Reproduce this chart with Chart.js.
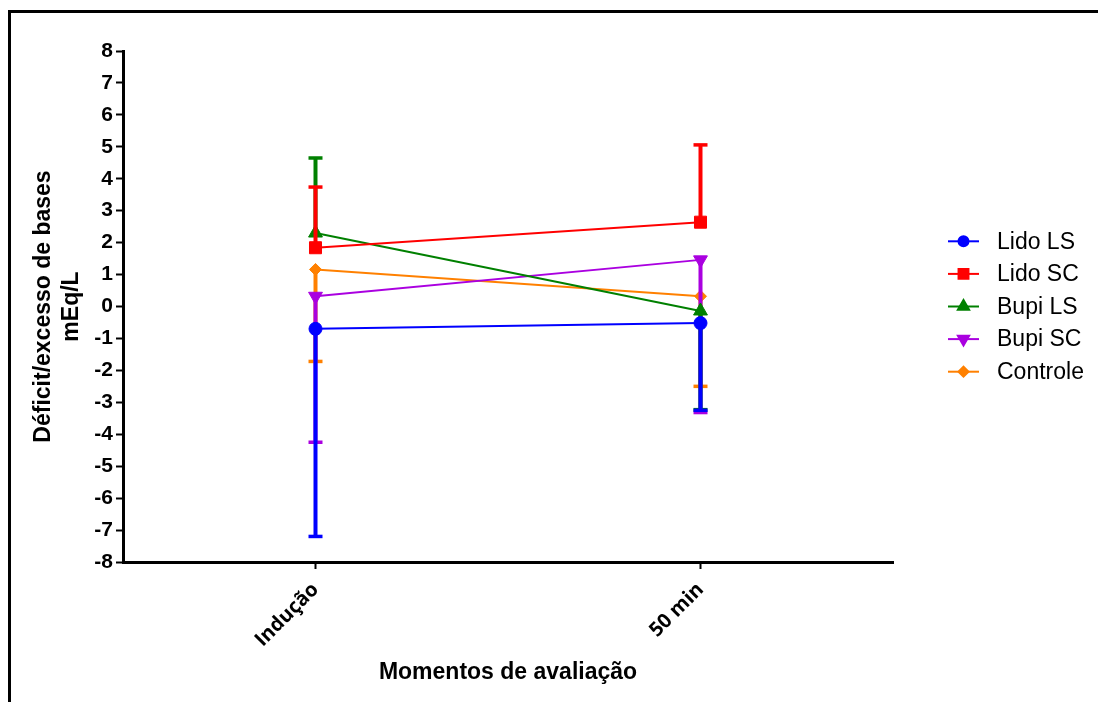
<!DOCTYPE html>
<html>
<head>
<meta charset="utf-8">
<script src="https://cdn.jsdelivr.net/npm/chart.js@4.4.0/dist/chart.umd.min.js"></script>
<style>
  html, body { margin: 0; padding: 0; background: #fff; }
  #wrap { position: relative; width: 1098px; height: 702px; }
</style>
</head>
<body>
<div id="wrap"><canvas id="baseChart"></canvas></div>
<script>
const moments = ["Indução", "50 min"];

// group means
const lidoLS = [-0.7, -0.52];
const lidoSC = [1.84, 2.64];
const bupiLS = [2.3, -0.14];
const bupiSC = [0.32, 1.46];
const controle = [1.16, 0.32];

// where each one-sided error bar ends
const lidoLSErr = [-7.2, -3.25];
const lidoSCErr = [3.74, 5.06];
const bupiLSErr = [4.65, -3.23];
const bupiSCErr = [-4.25, -3.32];
const controleErr = [-1.72, -2.5];

const yMin = -8;
const yMax = 8;

const arial = '"Liberation Sans", Arial, sans-serif';

// Frame round the figure (only top and left edges show).
const framePlugin = {
  id: "frame",
  beforeDraw: (chart) => {
    const ctx = chart.ctx;
    ctx.save();
    ctx.fillStyle = "#000";
    ctx.fillRect(8, 10, 3, chart.height);
    ctx.fillRect(8, 10, chart.width, 3);
    ctx.restore();
  },
};

// Error bars, drawn right after each dataset so layering follows the datasets.
const errorBarPlugin = {
  id: "errorBars",
  afterDatasetDraw: (chart, args) => {
    const ds = chart.data.datasets[args.index];
    if (!ds.errorTo) {
      return;
    }
    const ctx = chart.ctx;
    const yScale = chart.scales.y;
    ctx.save();
    ctx.strokeStyle = ds.borderColor;
    args.meta.data.forEach((pt, i) => {
      const yEnd = yScale.getPixelForValue(ds.errorTo[i]);
      ctx.lineWidth = 4;
      ctx.beginPath();
      ctx.moveTo(pt.x, pt.y);
      ctx.lineTo(pt.x, yEnd);
      ctx.stroke();
      ctx.lineWidth = 3.5;
      ctx.beginPath();
      ctx.moveTo(pt.x - 7, yEnd);
      ctx.lineTo(pt.x + 7, yEnd);
      ctx.stroke();
    });
    ctx.restore();
  },
};

// Legend in GraphPad style: short line with the marker on it.
const sideLegendPlugin = {
  id: "sideLegend",
  afterDraw: (chart) => {
    const ctx = chart.ctx;
    const area = chart.chartArea;
    const datasets = chart.data.datasets;
    const rowGap = 32.6;
    const x0 = area.right + 55;
    const yStart = (area.top + area.bottom) / 2 - (rowGap * (datasets.length - 1)) / 2;
    ctx.save();
    datasets.forEach((ds, i) => {
      const y = yStart + i * rowGap;
      ctx.strokeStyle = ds.borderColor;
      ctx.fillStyle = ds.borderColor;
      ctx.lineWidth = 2;
      ctx.beginPath();
      ctx.moveTo(x0, y);
      ctx.lineTo(x0 + 31, y);
      ctx.stroke();
      Chart.helpers.drawPoint(
        ctx,
        {
          pointStyle: ds.pointStyle,
          radius: ds.legendRadius,
          rotation: ds.pointRotation || 0,
          borderWidth: 1,
        },
        x0 + 15.5,
        y
      );
      ctx.fillStyle = "#000";
      ctx.font = `23px ${arial}`;
      ctx.textBaseline = "middle";
      ctx.textAlign = "left";
      ctx.fillText(ds.label, x0 + 49, y + 1);
    });
    ctx.restore();
  },
};

const makeSeries = (label, data, errorTo, color, pointStyle, radius, legendRadius, rotation) => ({
  label,
  data,
  errorTo,
  borderColor: color,
  backgroundColor: color,
  pointBackgroundColor: color,
  pointBorderColor: color,
  borderWidth: 2,
  tension: 0,
  pointStyle,
  pointRadius: radius,
  pointBorderWidth: 1,
  pointRotation: rotation,
  legendRadius,
});

const buildChart = () => {
  const canvas = document.getElementById("baseChart");

  new Chart(canvas, {
    type: "line",
    data: {
      labels: moments,
      datasets: [
        makeSeries("Lido LS", lidoLS, lidoLSErr, "#0000ff", "circle", 6.5, 5, 0),
        makeSeries("Lido SC", lidoSC, lidoSCErr, "#ff0000", "rect", 8.5, 7, 0),
        makeSeries("Bupi LS", bupiLS, bupiLSErr, "#008000", "triangle", 8, 6.5, 0),
        makeSeries("Bupi SC", bupiSC, bupiSCErr, "#aa00e0", "triangle", 8, 6.5, 180),
        makeSeries("Controle", controle, controleErr, "#ff8000", "rectRot", 6, 5, 0),
      ],
    },
    options: {
      responsive: true,
      maintainAspectRatio: false,
      animation: false,
      events: [],
      layout: {
        padding: { top: 51, right: 205, bottom: 0, left: 0 },
      },
      plugins: {
        legend: { display: false },
        tooltip: { enabled: false },
      },
      scales: {
        x: {
          type: "category",
          offset: true,
          border: { display: true, color: "#000", width: 3 },
          grid: {
            offset: false,
            drawOnChartArea: false,
            drawTicks: true,
            tickLength: 7,
            tickWidth: 2,
            tickColor: "#000",
          },
          ticks: {
            color: "#000",
            autoSkip: false,
            minRotation: 45,
            maxRotation: 45,
            padding: 9,
            font: { family: '"Open Sans", sans-serif', size: 20, weight: "bold" },
          },
          title: {
            display: true,
            text: "Momentos de avaliação",
            color: "#000",
            font: { family: arial, size: 23, weight: "bold" },
            padding: { top: 0, bottom: 16 },
          },
          afterFit: (scale) => {
            scale.height = 140;
          },
        },
        y: {
          min: yMin,
          max: yMax,
          border: { display: true, color: "#000", width: 3 },
          grid: {
            drawOnChartArea: false,
            drawTicks: true,
            tickLength: 7,
            tickWidth: 2,
            tickColor: "#000",
          },
          ticks: {
            stepSize: 1,
            color: "#000",
            padding: 3,
            font: { family: arial, size: 21, weight: "bold" },
          },
          title: {
            display: true,
            text: ["Déficit/excesso de bases", "mEq/L"],
            color: "#000",
            font: { family: arial, size: 23, weight: "bold" },
            padding: { top: 30, bottom: 0 },
          },
          afterFit: (scale) => {
            scale.width = 123;
          },
        },
      },
    },
    plugins: [framePlugin, errorBarPlugin, sideLegendPlugin],
  });
};

document.addEventListener("DOMContentLoaded", buildChart);
</script>
</body>
</html>
